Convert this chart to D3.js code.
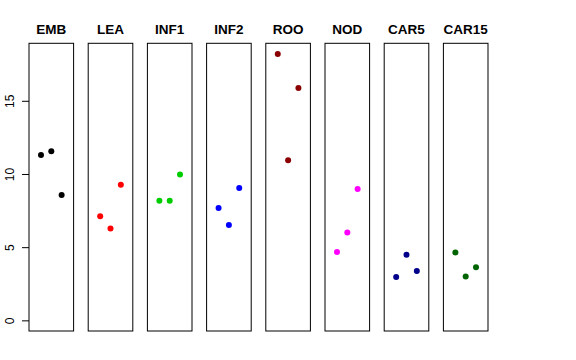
<!DOCTYPE html>
<html><head><meta charset="utf-8">
<script src="https://cdn.jsdelivr.net/npm/d3@7"></script>
<style>body{margin:0;background:#fff}svg{display:block}</style>
</head><body>
<svg id="chart" width="576" height="360"></svg>
<script>
const categories = ["EMB","LEA","INF1","INF2","ROO","NOD","CAR5","CAR15"];
const colors = ["#000000","#FF0000","#00CD00","#0000FF","#8B0000","#FF00FF","#00008B","#006400"];
const positions = [1,2,3];
const embValues = [11.3, 11.55, 8.56];
const leaValues = [7.12, 6.28, 9.26];
const inf1Values = [8.17, 8.17, 9.97];
const inf2Values = [7.67, 6.51, 9.04];
const rooValues = [18.2, 10.93, 15.87];
const nodValues = [4.67, 6.01, 8.97];
const car5Values = [2.96, 4.48, 3.37];
const car15Values = [4.64, 3.0, 3.62];
const seriesValues = [embValues, leaValues, inf1Values, inf2Values, rooValues, nodValues, car5Values, car15Values];
const yTicks = [0,5,10,15];

const svg = d3.select("#chart");
const font = "'Liberation Sans', Arial, Helvetica, sans-serif";

const panel = d3.scaleBand().domain(categories).range([29, 488]).paddingInner(0.2466).paddingOuter(0);
const bw = panel.bandwidth();
const yMax = 18.2, pad = 0.04 * yMax;
const y = d3.scaleLinear().domain([-pad, yMax + pad]).range([331, 43.3]);
const x = d3.scaleLinear().domain([-0.16, 4.16]).range([0, bw]);

categories.forEach((cat, i) => {
  const g = svg.append("g").attr("transform", `translate(${panel(cat)},0)`);
  g.append("rect").attr("x", 0).attr("y", y.range()[1]).attr("width", bw)
    .attr("height", y.range()[0] - y.range()[1])
    .attr("fill", "none").attr("stroke", "#000").attr("stroke-width", 1);
  g.append("text").attr("x", bw / 2).attr("y", 33.5).attr("text-anchor", "middle")
    .attr("font-family", font).attr("font-weight", "bold").attr("font-size", "13.5px")
    .text(cat);
  g.selectAll("circle").data(seriesValues[i]).enter().append("circle")
    .attr("cx", (d, j) => x(positions[j])).attr("cy", d => y(d)).attr("r", 3)
    .attr("fill", colors[i]);
});

const axis = d3.axisLeft(y).tickValues(yTicks).tickSize(7).tickFormat(d3.format("d"));
const ag = svg.append("g").attr("transform", `translate(${panel(categories[0])},0)`).call(axis);
ag.select(".domain").remove();
ag.selectAll(".tick line").attr("stroke", "#000");
ag.selectAll(".tick text")
  .attr("font-family", font).attr("font-size", "12px").attr("fill", "#000")
  .attr("x", null).attr("dy", null)
  .attr("text-anchor", "middle")
  .attr("transform", "translate(-15.5,0) rotate(-90)");
</script>
</body></html>
